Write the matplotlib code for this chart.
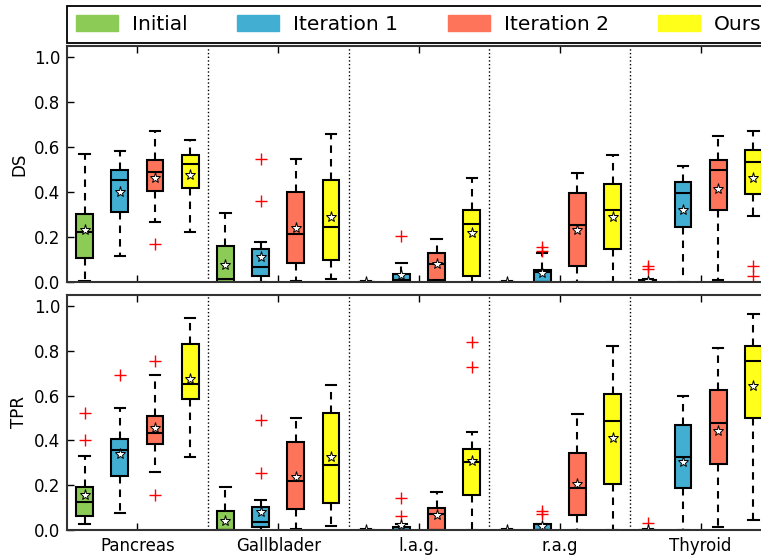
import matplotlib

matplotlib.use("Agg")

import matplotlib.pyplot as plt
import numpy as np
from matplotlib.patches import Patch

GROUPS = ["Pancreas", "Gallblader", "l.a.g.", "r.a.g", "Thyroid"]
METHODS = ["Initial", "Iteration 1", "Iteration 2", "Ours"]
COLORS = ["#8dcb57", "#42aed2", "#fe745a", "#ffff1a"]

# one row per organ, one column per method
DS_WHISHI = [
    [0.569, 0.582, 0.674, 0.630],
    [0.308, 0.179, 0.547, 0.658],
    [0.004, 0.084, 0.191, 0.462],
    [0.004, 0.129, 0.487, 0.564],
    [0.012, 0.516, 0.650, 0.674],
]
DS_Q3 = [
    [0.301, 0.498, 0.542, 0.564],
    [0.159, 0.147, 0.399, 0.455],
    [0.002, 0.034, 0.130, 0.321],
    [0.002, 0.055, 0.394, 0.434],
    [0.008, 0.443, 0.542, 0.588],
]
DS_MED = [
    [0.224, 0.456, 0.489, 0.524],
    [0.012, 0.065, 0.215, 0.246],
    [0.000, 0.010, 0.079, 0.256],
    [0.000, 0.045, 0.252, 0.321],
    [0.003, 0.394, 0.498, 0.533],
]
DS_Q1 = [
    [0.105, 0.313, 0.406, 0.416],
    [0.000, 0.028, 0.084, 0.096],
    [0.000, 0.000, 0.007, 0.028],
    [0.000, 0.000, 0.070, 0.147],
    [0.000, 0.244, 0.321, 0.393],
]
DS_WHISLO = [
    [0.003, 0.116, 0.268, 0.222],
    [0.000, 0.000, 0.006, 0.013],
    [0.000, 0.000, 0.000, 0.000],
    [0.000, 0.000, 0.000, 0.000],
    [0.000, 0.000, 0.009, 0.292],
]
DS_MEAN = [
    [0.232, 0.401, 0.464, 0.478],
    [0.074, 0.113, 0.241, 0.287],
    [0.002, 0.030, 0.080, 0.216],
    [0.002, 0.040, 0.230, 0.289],
    [0.006, 0.321, 0.413, 0.464],
]
DS_FLIERS = [
    [[], [], [0.169], []],
    [[], [0.547, 0.361], [], []],
    [[], [0.204], [], []],
    [[], [0.155, 0.140], [], []],
    [[0.071, 0.060], [], [], [0.071, 0.025]],
]

TPR_WHISHI = [
    [0.330, 0.545, 0.691, 0.947],
    [0.193, 0.134, 0.502, 0.646],
    [0.003, 0.026, 0.171, 0.438],
    [0.003, 0.025, 0.520, 0.820],
    [0.005, 0.600, 0.813, 0.964],
]
TPR_Q3 = [
    [0.190, 0.406, 0.510, 0.829],
    [0.086, 0.101, 0.392, 0.523],
    [0.000, 0.015, 0.097, 0.361],
    [0.000, 0.025, 0.346, 0.608],
    [0.000, 0.467, 0.627, 0.820],
]
TPR_MED = [
    [0.126, 0.358, 0.434, 0.654],
    [0.000, 0.037, 0.221, 0.290],
    [0.000, 0.000, 0.070, 0.303],
    [0.000, 0.000, 0.187, 0.489],
    [0.000, 0.328, 0.476, 0.756],
]
TPR_Q1 = [
    [0.064, 0.242, 0.386, 0.584],
    [0.000, 0.012, 0.092, 0.122],
    [0.000, 0.000, 0.000, 0.157],
    [0.000, 0.000, 0.065, 0.204],
    [0.000, 0.187, 0.297, 0.499],
]
TPR_WHISLO = [
    [0.028, 0.076, 0.257, 0.324],
    [0.000, 0.000, 0.004, 0.019],
    [0.000, 0.000, 0.000, 0.000],
    [0.000, 0.000, 0.000, 0.000],
    [0.000, 0.000, 0.015, 0.046],
]
TPR_MEAN = [
    [0.155, 0.340, 0.456, 0.676],
    [0.042, 0.080, 0.235, 0.324],
    [0.002, 0.022, 0.067, 0.307],
    [0.002, 0.020, 0.204, 0.409],
    [0.002, 0.305, 0.441, 0.642],
]
TPR_FLIERS = [
    [[0.523, 0.404], [0.691], [0.756, 0.157], []],
    [[], [0.490, 0.256], [], []],
    [[], [0.141, 0.061], [], [0.838, 0.730]],
    [[], [0.085, 0.070], [], []],
    [[0.031], [], [], []],
]

OFFSETS = [-0.375, -0.125, 0.125, 0.375]
W, H = 761, 556


def build_stats(whislo, q1, med, q3, whishi, mean, fliers):
    stats, positions, colors = [], [], []
    for g in range(len(GROUPS)):
        for m in range(len(METHODS)):
            stats.append(
                {
                    "whislo": whislo[g][m],
                    "q1": q1[g][m],
                    "med": med[g][m],
                    "q3": q3[g][m],
                    "whishi": whishi[g][m],
                    "mean": mean[g][m],
                    "fliers": np.array(fliers[g][m]),
                }
            )
            positions.append(g + 1 + OFFSETS[m])
            colors.append(COLORS[m])
    return stats, positions, colors


def draw_panel(ax, stats, positions, colors, ylabel, show_labels):
    parts = ax.bxp(
        stats,
        positions=positions,
        widths=0.12,
        capwidths=0.075,
        patch_artist=True,
        showmeans=True,
        manage_ticks=False,
        boxprops=dict(edgecolor="black", linewidth=1.5),
        medianprops=dict(color="black", linewidth=1.5),
        whiskerprops=dict(color="black", linewidth=1.5, linestyle=(0, (3.6, 2.9))),
        capprops=dict(color="black", linewidth=1.5),
        flierprops=dict(marker="+", markeredgecolor="red", markersize=8, markeredgewidth=1),
        meanprops=dict(marker="*", markerfacecolor="white", markeredgecolor="black",
                       markersize=8, markeredgewidth=0.7),
    )
    for box, c in zip(parts["boxes"], colors):
        box.set_facecolor(c)

    for x in np.arange(1.5, len(GROUPS), 1.0):
        ax.axvline(x, color="black", linestyle=":", linewidth=1)

    ax.set_xlim(0.5, len(GROUPS) + 0.5)
    ax.set_ylim(0, 1.05)
    ax.set_yticks(np.arange(0, 1.01, 0.2))
    ax.set_yticklabels([f"{v:.1f}" for v in np.arange(0, 1.01, 0.2)])
    ax.set_xticks(range(1, len(GROUPS) + 1))
    if show_labels:
        ax.set_xticklabels(GROUPS)
    else:
        ax.set_xticklabels([])
    ax.tick_params(direction="in", top=True, right=True, length=5, width=1,
                   labelsize=12, pad=5)
    ax.set_ylabel(ylabel, fontsize=12)
    ax.yaxis.set_label_coords(-0.055, 0.5)
    for spine in ax.spines.values():
        spine.set_linewidth(1.5)
        spine.set_color("#333333")


fig = plt.figure(figsize=(W / 100, H / 100), dpi=100)
ax_ds = fig.add_axes([67 / W, 1 - 282 / H, 704 / W, 236 / H])
ax_tpr = fig.add_axes([67 / W, 1 - 530 / H, 704 / W, 235 / H])

draw_panel(ax_ds, *build_stats(DS_WHISLO, DS_Q1, DS_MED, DS_Q3, DS_WHISHI, DS_MEAN, DS_FLIERS),
           "DS", False)
draw_panel(ax_tpr, *build_stats(TPR_WHISLO, TPR_Q1, TPR_MED, TPR_Q3, TPR_WHISHI, TPR_MEAN, TPR_FLIERS),
           "TPR", True)

handles = [Patch(facecolor=c, edgecolor=c) for c in COLORS]
leg = fig.legend(
    handles,
    METHODS,
    loc="upper left",
    bbox_to_anchor=(67 / W, 1 - 6 / H, 704 / W, 0.0),
    mode="expand",
    ncol=4,
    fontsize=14.5,
    handlelength=2.1,
    handleheight=0.8,
    handletextpad=0.7,
    borderaxespad=0,
    borderpad=0.45,
    fancybox=False,
    framealpha=1,
)
leg.get_frame().set_edgecolor("black")
leg.get_frame().set_linewidth(1.3)

fig.savefig("out.png", dpi=100)
